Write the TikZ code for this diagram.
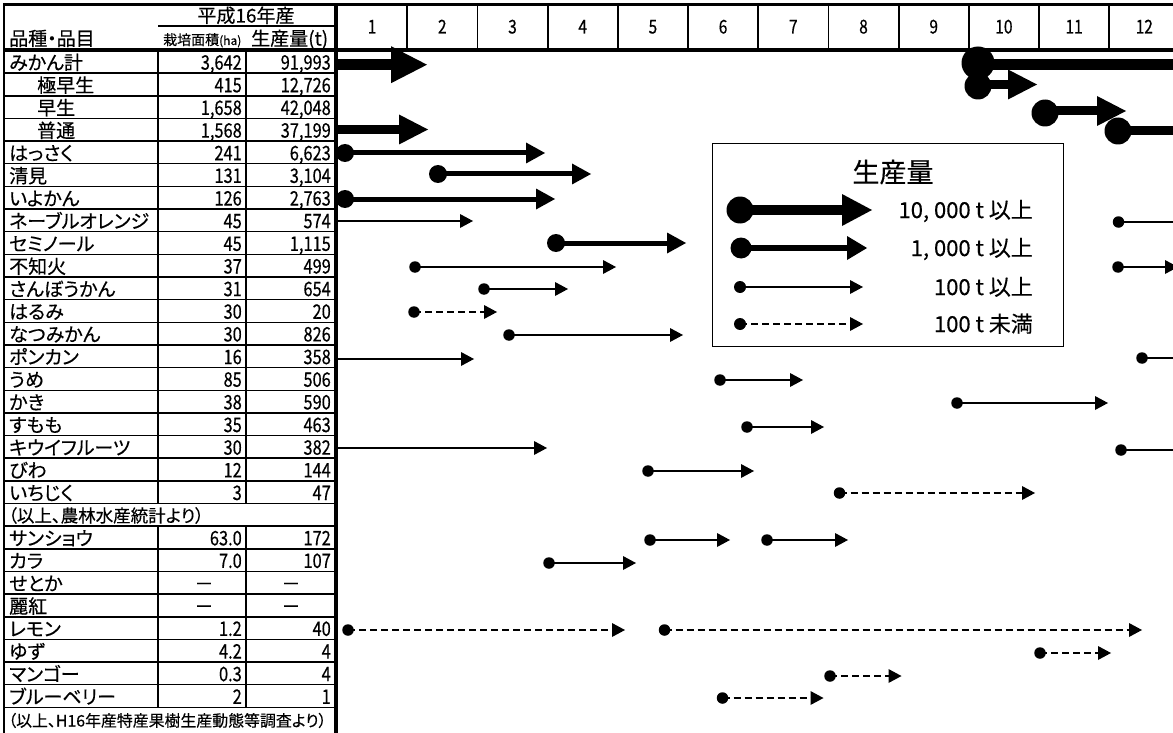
\documentclass[tikz,border=0pt]{standalone}
\usepackage{fontspec}
\setmainfont{Noto Sans CJK JP}[RawFeature={+palt}, FakeBold=0.4]
\newfontfamily\numfam{Noto Sans CJK JP}[FakeStretch=0.82, FakeBold=0.4]
\usetikzlibrary{arrows.meta}
\tikzset{
  txt/.style={inner sep=0pt, font=\fontsize{19}{20}\selectfont},
  num/.style={inner sep=0pt, font=\numfam\fontsize{20}{20}\selectfont},
  mon/.style={inner sep=0pt, font=\numfam\fontsize{19}{19}\selectfont},
  lgtxt/.style={inner sep=0pt, font=\fontsize{22}{22}\selectfont},
  rowline/.style={line width=1.5pt},
  colline/.style={line width=2.2pt},
  monline/.style={line width=1.8pt},
  edgeline/.style={line width=2.6pt},
  sepline/.style={line width=4pt},
  topline/.style={line width=3pt},
  headline/.style={line width=3.6pt},
  arrAbig/.style={line width=11pt, -{Triangle[length=36pt,width=37pt,line width=0pt]}},
  arrA/.style={line width=9pt, -{Triangle[length=29pt,width=30pt,line width=0pt]}},
  arrB/.style={line width=5pt, -{Triangle[length=19pt,width=21pt,line width=0pt]}},
  arrC/.style={line width=1.5pt, -{Triangle[length=13pt,width=14pt,line width=0pt]}},
  arrD/.style={arrC, dash pattern=on 7pt off 4pt},
  dotAbig/.style={circle, fill, inner sep=0pt, minimum size=33pt},
  dotA/.style={circle, fill, inner sep=0pt, minimum size=27pt},
  dotB/.style={circle, fill, inner sep=0pt, minimum size=18pt},
  dotC/.style={circle, fill, inner sep=0pt, minimum size=11.5pt},
  lgA/.style={line width=10.5pt, -{Triangle[length=30pt,width=32pt,line width=0pt]}},
  lgB/.style={line width=6pt, -{Triangle[length=20pt,width=24pt,line width=0pt]}},
}
\begin{document}
\begin{tikzpicture}[x=1pt,y=-1pt]
\useasboundingbox (0,0) rectangle (1173,733);
\clip (0,0) rectangle (1173,733);
\fill[white] (0,0) rectangle (1173,733);

% ---- table grid ----
\foreach \k in {1,...,29}
  \draw[rowline] (4,{50.5+22.65*\k}) -- (335,{50.5+22.65*\k});
\foreach \xx in {158,246} {
  \draw[colline] (\xx,50.5) -- (\xx,{50.5+22.65*20});
  \draw[colline] (\xx,{50.5+22.65*21}) -- (\xx,{50.5+22.65*29});
}
\draw[rowline] (158,26) -- (335,26);
\foreach \k in {1,...,11}
  \draw[monline] ({337+70.2*\k},5) -- ({337+70.2*\k},50);
\draw[edgeline] (4,5) -- (4,733);
\draw[sepline] (335.5,5) -- (335.5,733);
\draw[topline] (3,5) -- (1173,5);
\draw[headline] (3,50) -- (1173,50);

% ---- header texts ----
\node[txt, anchor=base] (hy) at (246,22.5) {平成16年産};
\node[txt, anchor=base west] (hname) at (9,45.5) {品種・品目};
\node[inner sep=0pt, anchor=base west] (harea) at (163,45) {\fontsize{14}{14}\selectfont 栽培面積\fontsize{12}{12}\selectfont(ha)};
\node[txt, anchor=base west] (hprod) at (251,45.5) {生産量(t)};
\foreach \m in {1,...,12}
  \node[mon, anchor=base] (m\m) at ({337+70.2*(\m-0.5)},33.5) {\m};

% ---- table rows ----
\foreach \r/\xx/\nm/\ar/\pr in {
  1/9/みかん計/{3,642}/{91,993},
  2/37/極早生/415/{12,726},
  3/37/早生/{1,658}/{42,048},
  4/37/普通/{1,568}/{37,199},
  5/9/はっさく/241/{6,623},
  6/9/清見/131/{3,104},
  7/9/いよかん/126/{2,763},
  8/9/ネーブルオレンジ/45/574,
  9/9/セミノール/45/{1,115},
  10/9/不知火/37/499,
  11/9/さんぼうかん/31/654,
  12/9/はるみ/30/20,
  13/9/なつみかん/30/826,
  14/9/ポンカン/16/358,
  15/9/うめ/85/506,
  16/9/かき/38/590,
  17/9/すもも/35/463,
  18/9/キウイフルーツ/30/382,
  19/9/びわ/12/144,
  20/9/いちじく/3/47,
  22/9/サンショウ/63.0/172,
  23/9/カラ/7.0/107,
  26/9/レモン/1.2/40,
  27/9/ゆず/4.2/4,
  28/9/マンゴー/0.3/4,
  29/9/ブルーベリー/2/1}{
  \node[txt, anchor=base west] (n\r) at (\xx,{47+22.65*\r}) {\nm};
  \node[num, anchor=base east] (a\r) at (242,{47+22.65*\r}) {\ar};
  \node[num, anchor=base east] (p\r) at (331,{47+22.65*\r}) {\pr};
}
\foreach \r/\nm in {24/せとか, 25/麗紅}{
  \node[txt, anchor=base west] (n\r) at (9,{47+22.65*\r}) {\nm};
  \node[txt, anchor=base] (a\r) at (204,{47+22.65*\r}) {－};
  \node[txt, anchor=base] (p\r) at (291,{47+22.65*\r}) {－};
}
\node[inner sep=0pt, anchor=base west, font=\fontsize{17.5}{18}\selectfont] (note1) at (8,{46.5+22.65*21}) {（以上、農林水産統計より）};
\node[inner sep=0pt, anchor=base west, font=\fontsize{15.9}{17}\selectfont] (note2) at (8,{47+22.65*30}) {（以上、H16年産特産果樹生産動態等調査より）};

% ---- 10,000 t class ----
\coordinate (sMkL) at (337,64.7);  \coordinate (eMkL) at (427,64.7);
\draw[arrAbig] (sMkL) -- (eMkL);
\coordinate (sFtL) at (337,129.5); \coordinate (eFtL) at (428,129.5);
\draw[arrA] (sFtL) -- (eFtL);
\coordinate (eMkR) at (1200,64.5);
\node[dotAbig] (sMkR) at (978,63) {};
\draw[line width=11pt] (sMkR |- eMkR) -- (eMkR);
\coordinate (eGw) at (1037,84.5);
\node[dotA] (sGw) at (978,86) {};
\draw[arrA] (sGw |- eGw) -- (eGw);
\coordinate (eWs) at (1126,111);
\node[dotA] (sWs) at (1045,113) {};
\draw[arrA] (sWs |- eWs) -- (eWs);
\coordinate (eFtR) at (1200,130.5);
\node[dotA] (sFtR) at (1118,131) {};
\draw[line width=9pt] (sFtR |- eFtR) -- (eFtR);

% ---- 1,000 t class ----
\foreach \n/\sx/\ex/\yy in {hs/345/545/153, kk/438/591/174, iy/345/555/199, sn/556/686/243}{
  \coordinate (e\n) at (\ex,\yy);
  \node[dotB] (s\n) at (\sx,\yy) {};
  \draw[arrB] (s\n.center) -- (e\n);
}

% ---- 100 t class ----
\foreach \n/\ex/\yy in {nv/473/221, pk/474/359, kw/547/448}{
  \coordinate (s\n) at (337,\yy);
  \coordinate (e\n) at (\ex,\yy);
  \draw[arrC] (s\n) -- (e\n);
}
\foreach \n/\sx/\ex/\yy in {sr/415/616/267, sb/484/568/289, nt/509/683/335,
  um/720/803/380, ki/957/1108/403, su/747/824/427, bw/648/754/471,
  sa/650/730/540, sc/767/848/540, kr/549/636/563,
  nvR/1118.5/1200/222, srR/1118/1178/267, pkR/1142/1200/358, kwR/1121/1200/450}{
  \coordinate (e\n) at (\ex,\yy);
  \node[dotC] (s\n) at (\sx,\yy) {};
  \draw[arrC] (s\n.center) -- (e\n);
}

% ---- under 100 t class ----
\foreach \n/\sx/\ex/\yy in {hr/414/497/312, ij/839.5/1035/493, la/348/625/630,
  lb/664.5/1142/630, yz/1040/1111/653, mg/830/901.5/676, bb/722.5/823.5/698}{
  \coordinate (e\n) at (\ex,\yy);
  \node[dotC] (s\n) at (\sx,\yy) {};
  \draw[arrD] (s\n.center) -- (e\n);
}

% ---- legend ----
\node[draw, line width=1.2pt, inner sep=0pt, minimum width=351pt, minimum height=203pt, anchor=north west] (legend) at (712,143) {};
\node[inner sep=0pt, font=\fontsize{27}{27}\selectfont] (lgtitle) at (893,172) {生産量};
\coordinate (lgAe) at (872,210);
\node[circle, fill, inner sep=0pt, minimum size=27pt] (lgAs) at (740,210) {};
\draw[lgA] (lgAs.center) -- (lgAe);
\coordinate (lgBe) at (867,248);
\node[circle, fill, inner sep=0pt, minimum size=21pt] (lgBs) at (741,248) {};
\draw[lgB] (lgBs.center) -- (lgBe);
\coordinate (lgCe) at (863,287);
\node[circle, fill, inner sep=0pt, minimum size=12pt] (lgCs) at (740,287) {};
\draw[arrC] (lgCs.center) -- (lgCe);
\coordinate (lgDe) at (863,324);
\node[circle, fill, inner sep=0pt, minimum size=12pt] (lgDs) at (740,324) {};
\draw[arrD] (lgDs.center) -- (lgDe);
\node[lgtxt, anchor=base east] (lgAt) at (1033,218) {10, 000 t 以上};
\node[lgtxt, anchor=base east] (lgBt) at (1033,256) {1, 000 t 以上};
\node[lgtxt, anchor=base east] (lgCt) at (1033,295) {100 t 以上};
\node[lgtxt, anchor=base east] (lgDt) at (1033,332) {100 t 未満};
\end{tikzpicture}
\end{document}
